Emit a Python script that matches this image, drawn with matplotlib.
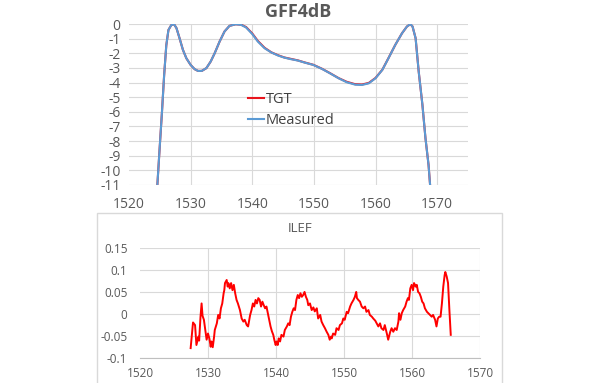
import matplotlib
matplotlib.use("Agg")
import matplotlib.pyplot as plt
from matplotlib.patches import Rectangle

plt.rcParams['font.family'] = ['Open Sans', 'DejaVu Sans']
plt.rcParams['axes.unicode_minus'] = False

# GFF4dB curve (dB)
wl_top = [1524.6, 1524.97, 1525.35, 1525.7, 1526.05, 1526.4, 1526.85, 1527.3, 1527.7, 1528.2,
          1528.75, 1529.3, 1530.0, 1530.65, 1531.2, 1531.8, 1532.55, 1533.25, 1533.9, 1534.7,
          1535.5, 1536.3, 1537.3, 1538.2, 1539.0, 1540.0, 1540.9, 1542.0, 1543.1, 1544.2,
          1545.2, 1546.3, 1547.4, 1548.5, 1549.9, 1551.3, 1552.6, 1554.0, 1555.3, 1556.7,
          1557.8, 1558.9, 1560.0, 1561.1, 1562.1, 1563.2, 1564.3, 1565.1, 1565.65, 1566.0,
          1566.5, 1567.0, 1567.6, 1568.1, 1568.6, 1568.85]
measured = [-11, -8.5, -6.0, -3.5, -1.45, -0.4, -0.07, 0, -0.27, -0.96,
            -1.76, -2.33, -2.79, -3.08, -3.2, -3.2, -3.01, -2.56, -1.99, -1.19,
            -0.5, -0.12, -0.01, -0.05, -0.23, -0.68, -1.19, -1.65, -1.94, -2.15,
            -2.29, -2.4, -2.49, -2.63, -2.79, -3.06, -3.36, -3.7, -3.97, -4.14,
            -4.16, -4.05, -3.7, -3.13, -2.33, -1.42, -0.62, -0.16, 0, -0.16,
            -0.96, -3.24, -5.5, -7.8, -9.63, -11]
tgt = [-11, -8.5, -6.0, -3.5, -1.45, -0.4, -0.07, 0, -0.27, -0.96,
       -1.76, -2.33, -2.79, -3.08, -3.2, -3.2, -3.01, -2.56, -1.99, -1.19,
       -0.5, -0.12, -0.01, -0.04, -0.2, -0.64, -1.15, -1.62, -1.93, -2.13,
       -2.28, -2.38, -2.48, -2.62, -2.78, -3.05, -3.35, -3.69, -3.94, -4.11,
       -4.13, -4.02, -3.68, -3.12, -2.32, -1.42, -0.62, -0.16, 0, -0.16,
       -0.96, -3.24, -5.5, -7.8, -9.63, -11]

# ILEF ripple
wl_ilef = [1527.45, 1527.8, 1528.1, 1528.3, 1528.6, 1528.7, 1528.9, 1529.06, 1529.2, 1529.4,
           1529.6, 1529.8, 1530.0, 1530.2, 1530.4, 1530.5, 1530.7, 1530.9, 1531.0, 1531.3,
           1531.5, 1531.7, 1531.9, 1532.1, 1532.3, 1532.4, 1532.5, 1532.75, 1532.9, 1533.0,
           1533.2, 1533.4, 1533.6, 1533.8, 1534.0, 1534.2, 1534.4, 1534.7, 1534.95, 1535.2,
           1535.4, 1535.7, 1535.9, 1536.2, 1536.4, 1536.6, 1536.8, 1537.0, 1537.2, 1537.4,
           1537.6, 1537.8, 1538.0, 1538.2, 1538.4, 1538.6, 1538.8, 1539.0, 1539.2, 1539.4,
           1539.6, 1539.75, 1539.95, 1540.1, 1540.25, 1540.4, 1540.6, 1540.8, 1541.1, 1541.3,
           1541.6, 1541.8, 1542.0, 1542.2, 1542.4, 1542.6, 1542.8, 1543.0, 1543.2, 1543.4,
           1543.6, 1543.8, 1544.0, 1544.2, 1544.4, 1544.6, 1544.75, 1545.0, 1545.25, 1545.5,
           1545.7, 1546.0, 1546.2, 1546.5, 1546.7, 1546.95, 1547.2, 1547.45, 1547.7, 1547.9,
           1548.1, 1548.2, 1548.4, 1548.7, 1548.9, 1549.2, 1549.4, 1549.7, 1549.9, 1550.1,
           1550.4, 1550.6, 1550.9, 1551.1, 1551.4, 1551.6, 1551.8, 1551.9, 1552.1, 1552.35,
           1552.6, 1552.85, 1553.1, 1553.3, 1553.6, 1553.8, 1554.1, 1554.3, 1554.6, 1554.8,
           1555.05, 1555.3, 1555.5, 1555.8, 1556.0, 1556.3, 1556.5, 1556.8, 1557.0, 1557.25,
           1557.5, 1557.75, 1558.0, 1558.1, 1558.3, 1558.5, 1558.7, 1559.0, 1559.2, 1559.4,
           1559.55, 1559.75, 1559.95, 1560.15, 1560.3, 1560.55, 1560.7, 1560.9, 1561.1, 1561.3,
           1561.5, 1561.7, 1561.9, 1562.2, 1562.4, 1562.65, 1562.9, 1563.1, 1563.4, 1563.6,
           1563.8, 1564.0, 1564.2, 1564.4, 1564.6, 1564.8, 1564.9, 1565.1, 1565.3, 1565.5,
           1565.7]
ilef = [-0.077, -0.019, -0.025, -0.07, -0.051, -0.06, -0.006, 0.024, -0.004, -0.013,
        -0.036, -0.058, -0.044, -0.055, -0.074, -0.062, -0.075, -0.051, -0.036, -0.021,
        -0.002, -0.01, 0.013, 0.024, 0.047, 0.054, 0.07, 0.077, 0.062, 0.07,
        0.058, 0.07, 0.054, 0.066, 0.047, 0.032, 0.024, 0.009, -0.01, -0.017,
        -0.013, -0.025, -0.028, -0.002, 0.009, 0.024, 0.017, 0.032, 0.024, 0.036,
        0.032, 0.017, 0.028, 0.02, 0.013, 0.017, 0.002, -0.013, -0.028, -0.039,
        -0.047, -0.058, -0.07, -0.062, -0.07, -0.055, -0.062, -0.047, -0.051, -0.036,
        -0.028, -0.021, -0.025, -0.006, 0.005, 0.013, 0.009, 0.032, 0.043, 0.036,
        0.047, 0.039, 0.043, 0.05, 0.039, 0.032, 0.02, 0.024, 0.009, 0.015,
        0.006, 0.013, -0.01, -0.002, -0.017, -0.025, -0.032, -0.04, -0.047, -0.058,
        -0.051, -0.055, -0.044, -0.047, -0.032, -0.036, -0.025, -0.021, -0.01, -0.013,
        0.005, 0.002, 0.017, 0.024, 0.032, 0.039, 0.05, 0.036, 0.032, 0.028,
        0.017, 0.013, 0.017, 0.005, 0.009, -0.002, -0.006, -0.01, -0.015, -0.021,
        -0.028, -0.021, -0.032, -0.036, -0.025, -0.044, -0.058, -0.04, -0.032, -0.04,
        -0.032, -0.036, -0.017, 0.002, -0.013, 0.002, 0.009, 0.017, 0.028, 0.036,
        0.032, 0.058, 0.066, 0.054, 0.07, 0.062, 0.066, 0.05, 0.047, 0.039,
        0.028, 0.024, 0.013, 0.005, 0.002, -0.002, -0.006, -0.002, -0.013, -0.028,
        -0.01, -0.006, -0.006, 0.024, 0.062, 0.088, 0.095, 0.085, 0.07, 0.009,
        -0.047]

xticks = [1520, 1530, 1540, 1550, 1560, 1570]
top_yticks = list(range(0, -12, -1))
ilef_yticks = [0.15, 0.1, 0.05, 0, -0.05, -0.1]
ilef_ylabels = ['0.15', '0.1', '0.05', '0', '-0.05', '-0.1']

grid_c = '#d9d9d9'
text_c = '#595959'

fig = plt.figure(figsize=(6, 3.83), dpi=100)

# top chart
ax1 = fig.add_axes([0.215, 0.517, 0.565, 0.42])
ax1.plot(wl_top, tgt, color='#e8141c', lw=1.5, label='TGT')
ax1.plot(wl_top, measured, color='#5b9bd5', lw=1.5, label='Measured')
ax1.set_xlim(1520, 1575)
ax1.set_ylim(-11, 0)
ax1.set_xticks(xticks)
ax1.set_yticks(top_yticks)
ax1.grid(True, color=grid_c, lw=0.8)
ax1.get_xgridlines()[0].set_visible(False)
for s in ax1.spines.values():
    s.set_visible(False)
ax1.tick_params(length=0, labelsize=10, labelcolor=text_c)
ax1.tick_params(axis='x', pad=9)
ax1.tick_params(axis='y', pad=6)
ax1.set_title('GFF4dB', fontsize=13, fontweight='bold', color=text_c, pad=5)
ax1.legend(loc='upper left', bbox_to_anchor=(0.312, 0.66), frameon=False, fontsize=10.5,
           handlelength=1.1, handletextpad=0.1, labelspacing=0.4, labelcolor='#404040')

# bottom chart frame
fig.patches.append(Rectangle((97 / 600, -0.05), 405 / 600, 1 - 213 / 383 + 0.05,
                             transform=fig.transFigure, fill=False,
                             edgecolor=grid_c, lw=1))
fig.text(0.5, 1 - 228 / 383, 'ILEF', ha='center', va='center', fontsize=9.5, color=text_c)

ax2 = fig.add_axes([0.2333, 0.0645, 0.5667, 0.2888])
ax2.plot(wl_ilef, ilef, color='#ff0000', lw=1.4)
ax2.set_xlim(1520, 1570)
ax2.set_ylim(-0.1, 0.15)
ax2.set_xticks(xticks)
ax2.set_yticks(ilef_yticks)
ax2.set_yticklabels(ilef_ylabels)
ax2.grid(True, color=grid_c, lw=0.8)
ax2.get_xgridlines()[0].set_visible(False)
for k, s in ax2.spines.items():
    s.set_visible(k == 'bottom')
ax2.spines['bottom'].set_color('#bfbfbf')
ax2.tick_params(length=0, labelsize=8.5, labelcolor=text_c)
ax2.tick_params(axis='x', pad=6)
ax2.tick_params(axis='y', pad=9)

fig.savefig('out.png', dpi=100)
